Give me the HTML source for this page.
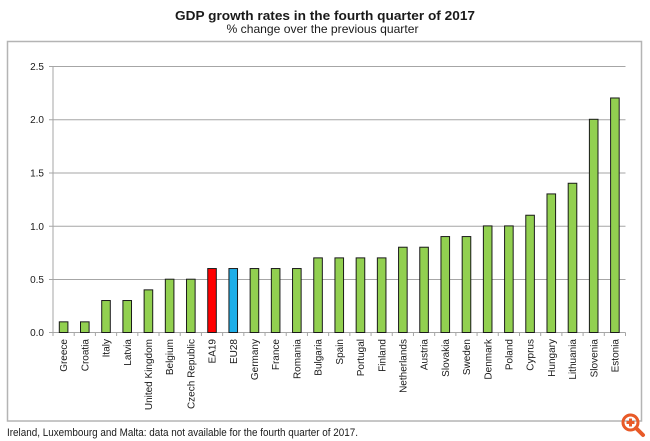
<!DOCTYPE html>
<html><head><meta charset="utf-8"><style>
html,body{margin:0;padding:0;background:#fff;}
svg{display:block;}
text{font-family:"Liberation Sans",Arial,sans-serif;fill:#1a1a1a;}
</style></head><body>
<svg width="650" height="441" viewBox="0 0 650 441" xmlns="http://www.w3.org/2000/svg">
<rect x="0" y="0" width="650" height="441" fill="#fff"/>
<text x="325" y="20" text-anchor="middle" font-size="13" font-weight="bold" textLength="300" lengthAdjust="spacingAndGlyphs">GDP growth rates in the fourth quarter of 2017</text>
<text x="322.5" y="33" text-anchor="middle" font-size="12" textLength="192" lengthAdjust="spacingAndGlyphs" fill="#222">% change over the previous quarter</text>
<rect x="7.5" y="41.5" width="634" height="379.5" fill="none" stroke="#b4b4b4" stroke-width="1.5"/>
<g stroke="#a6a6a6" stroke-width="1">
<line x1="49" y1="66.5" x2="625.5" y2="66.5"/>
<line x1="49" y1="119.7" x2="625.5" y2="119.7"/>
<line x1="49" y1="173" x2="625.5" y2="173"/>
<line x1="49" y1="226.3" x2="625.5" y2="226.3"/>
<line x1="49" y1="279.5" x2="625.5" y2="279.5"/>
<line x1="49" y1="332.5" x2="625.5" y2="332.5"/>
<line x1="53" y1="66.5" x2="53" y2="332.5"/>
</g>
<g font-size="10" text-anchor="end">
<text x="44" y="70">2.5</text>
<text x="44" y="123.2">2.0</text>
<text x="44" y="176.5">1.5</text>
<text x="44" y="229.8">1.0</text>
<text x="44" y="283">0.5</text>
<text x="44" y="336">0.0</text>
</g>
<g id="ticks" stroke="#a6a6a6" stroke-width="1"></g>
<g id="bars"></g>
<g id="labels" font-size="10" text-anchor="end"></g>
<text x="7" y="436" font-size="11" textLength="351" lengthAdjust="spacingAndGlyphs">Ireland, Luxembourg and Malta: data not available for the fourth quarter of 2017.</text>
<g stroke="#e85a28" fill="none">
<circle cx="630.5" cy="422.5" r="7.5" stroke-width="3"/>
<line x1="636" y1="428" x2="643" y2="435" stroke-width="4" stroke-linecap="round"/>
<line x1="626.5" y1="422.5" x2="634.5" y2="422.5" stroke-width="3"/>
<line x1="630.5" y1="418.5" x2="630.5" y2="426.5" stroke-width="3"/>
</g>
<script>
var names=["Greece","Croatia","Italy","Latvia","United Kingdom","Belgium","Czech Republic","EA19","EU28","Germany","France","Romania","Bulgaria","Spain","Portugal","Finland","Netherlands","Austria","Slovakia","Sweden","Denmark","Poland","Cyprus","Hungary","Lithuania","Slovenia","Estonia"];
var vals=[0.1,0.1,0.3,0.3,0.4,0.5,0.5,0.6,0.6,0.6,0.6,0.6,0.7,0.7,0.7,0.7,0.8,0.8,0.9,0.9,1.0,1.0,1.1,1.3,1.4,2.0,2.2];
var NS="http://www.w3.org/2000/svg";
var x0=53,w=(625.5-53)/27,y0=332.5,k=106.6;
var tg=document.getElementById("ticks"),bg=document.getElementById("bars"),lg=document.getElementById("labels");
for(var i=0;i<=27;i++){var l=document.createElementNS(NS,"line");var x=x0+i*w;l.setAttribute("x1",x);l.setAttribute("x2",x);l.setAttribute("y1",332.5);l.setAttribute("y2",336);tg.appendChild(l);}
for(var i=0;i<27;i++){
 var c=x0+(i+0.5)*w;var h=vals[i]*k;
 var r=document.createElementNS(NS,"rect");
 r.setAttribute("x",c-4.3);r.setAttribute("y",y0-h);r.setAttribute("width",8.6);r.setAttribute("height",h);
 var f="#92d050";if(names[i]=="EA19")f="#ff0000";if(names[i]=="EU28")f="#1eaee8";
 r.setAttribute("fill",f);r.setAttribute("stroke","#1a1a1a");r.setAttribute("stroke-width","1");
 bg.appendChild(r);
 var t=document.createElementNS(NS,"text");
 var bx=c+3.6,by=339;
 t.setAttribute("x",bx);t.setAttribute("y",by);
 t.setAttribute("transform","rotate(-90 "+bx+" "+by+")");
 t.textContent=names[i];lg.appendChild(t);
}
</script>
</svg>
</body></html>
